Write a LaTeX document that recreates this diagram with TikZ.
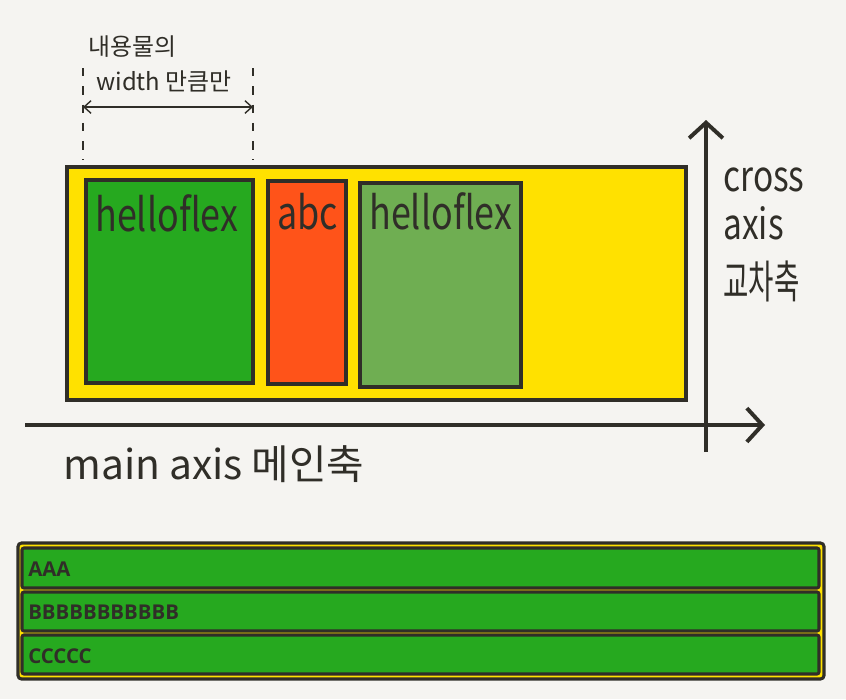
\documentclass[tikz,border=0pt]{standalone}
\usepackage{fontspec}
\setmainfont{Open Sans}
\newfontfamily\handfont{Noto Sans CJK KR}
\usetikzlibrary{arrows.meta}

\definecolor{ink}{HTML}{302E28}
\definecolor{paper}{HTML}{F5F4F1}
\definecolor{flexyellow}{HTML}{FFE100}
\definecolor{itemgreen}{HTML}{26A91F}
\definecolor{itemred}{HTML}{FF5319}
\definecolor{itemlight}{HTML}{6FAE52}

% narrow, tall hand lettering
\newcommand{\narrow}[1]{\scalebox{0.85}[1.08]{#1}}

\begin{document}
\begin{tikzpicture}[
  x=0.025cm, y=-0.025cm,
  box/.style={draw=ink, line width=2.6pt},
  axisline/.style={draw=ink, line width=2.8pt, -{Straight Barb[length=11pt, width=24pt, line width=2.8pt]}},
  guide/.style={draw=ink, line width=1pt, dash pattern=on 6pt off 7pt},
  dimline/.style={draw=ink, line width=1pt, {Straight Barb[length=5pt, width=9pt]}-{Straight Barb[length=5pt, width=9pt]}},
  hand/.style={font=\handfont\fontsize{30}{30}\selectfont, text=ink, inner sep=0pt},
  note/.style={font=\handfont\fontsize{17}{17}\selectfont, text=ink, inner sep=0pt},
  bar/.style={draw=ink, line width=2.2pt, rounded corners=1.5pt, fill=itemgreen},
  bartext/.style={font=\bfseries\fontsize{14.5}{15}\selectfont, text=ink, inner sep=0pt, anchor=west}
]
  % background
  \fill[paper] (0,0) rectangle (846,699);

  % === TOP: hand drawn flex container ===
  \draw[box, fill=flexyellow] (67,167) rectangle (686,400);
  \draw[box, fill=itemgreen] (86,180) rectangle (253,383);
  \draw[box, fill=itemred] (268,181) rectangle (346,384);
  \draw[box, fill=itemlight] (360,183) rectangle (521,387);

  \node[hand, anchor=west] (item1) at (95,213) {\narrow{helloflex}};
  \node[hand, anchor=west] (item2) at (277,212) {\narrow{abc}};
  \node[hand, anchor=west] (item3) at (369,211) {\narrow{helloflex}};

  % width of content
  \coordinate (wl top) at (83,68);
  \coordinate (wl bot) at (83,160);
  \coordinate (wr top) at (253,68);
  \coordinate (wr bot) at (253,160);
  \draw[guide] (wl top) -- (wl bot);
  \draw[guide] (wr top) -- (wr bot);
  \coordinate (wl) at (83,107);
  \coordinate (wr) at (253,107);
  \draw[dimline] (wl) -- (wr);
  \node[note, anchor=west] (content) at (88,47) {내용물의};
  \node[note, anchor=west] (widthonly) at (96,81) {width 만큼만};

  % axes
  \coordinate (main start) at (25,425);
  \coordinate (main end) at (765,425);
  \coordinate (cross start) at (706,452);
  \coordinate (cross end) at (706,120);
  \draw[axisline] (main start) -- (main end);
  \draw[axisline] (cross start) -- (cross end);

  \node[hand, anchor=west, font=\handfont\fontsize{29}{29}\selectfont] (mainlabel) at (63,464) {main axis 메인축};
  \node[hand, anchor=west, font=\handfont\fontsize{28}{28}\selectfont] (crossa) at (723,180) {\narrow{cross}};
  \node[hand, anchor=west, font=\handfont\fontsize{28}{28}\selectfont] (crossb) at (723,223) {\narrow{axis}};
  \node[hand, anchor=west, font=\handfont\fontsize{28}{28}\selectfont] (crossc) at (723,281) {\scalebox{0.7}[1.15]{교차축}};

  % === BOTTOM: rendered flex column ===
  \draw[draw=ink, line width=2.2pt, rounded corners=2.5pt, fill=flexyellow] (18,543) rectangle (824,679);
  \draw[bar] (22,548) rectangle (819,588);
  \draw[bar] (22,592) rectangle (819,631);
  \draw[bar] (22,635) rectangle (819,674);
  \node[bartext] (rowa) at (28,569) {AAA};
  \node[bartext] (rowb) at (28,612) {BBBBBBBBBBB};
  \node[bartext] (rowc) at (28,656) {CCCCC};
\end{tikzpicture}
\end{document}
